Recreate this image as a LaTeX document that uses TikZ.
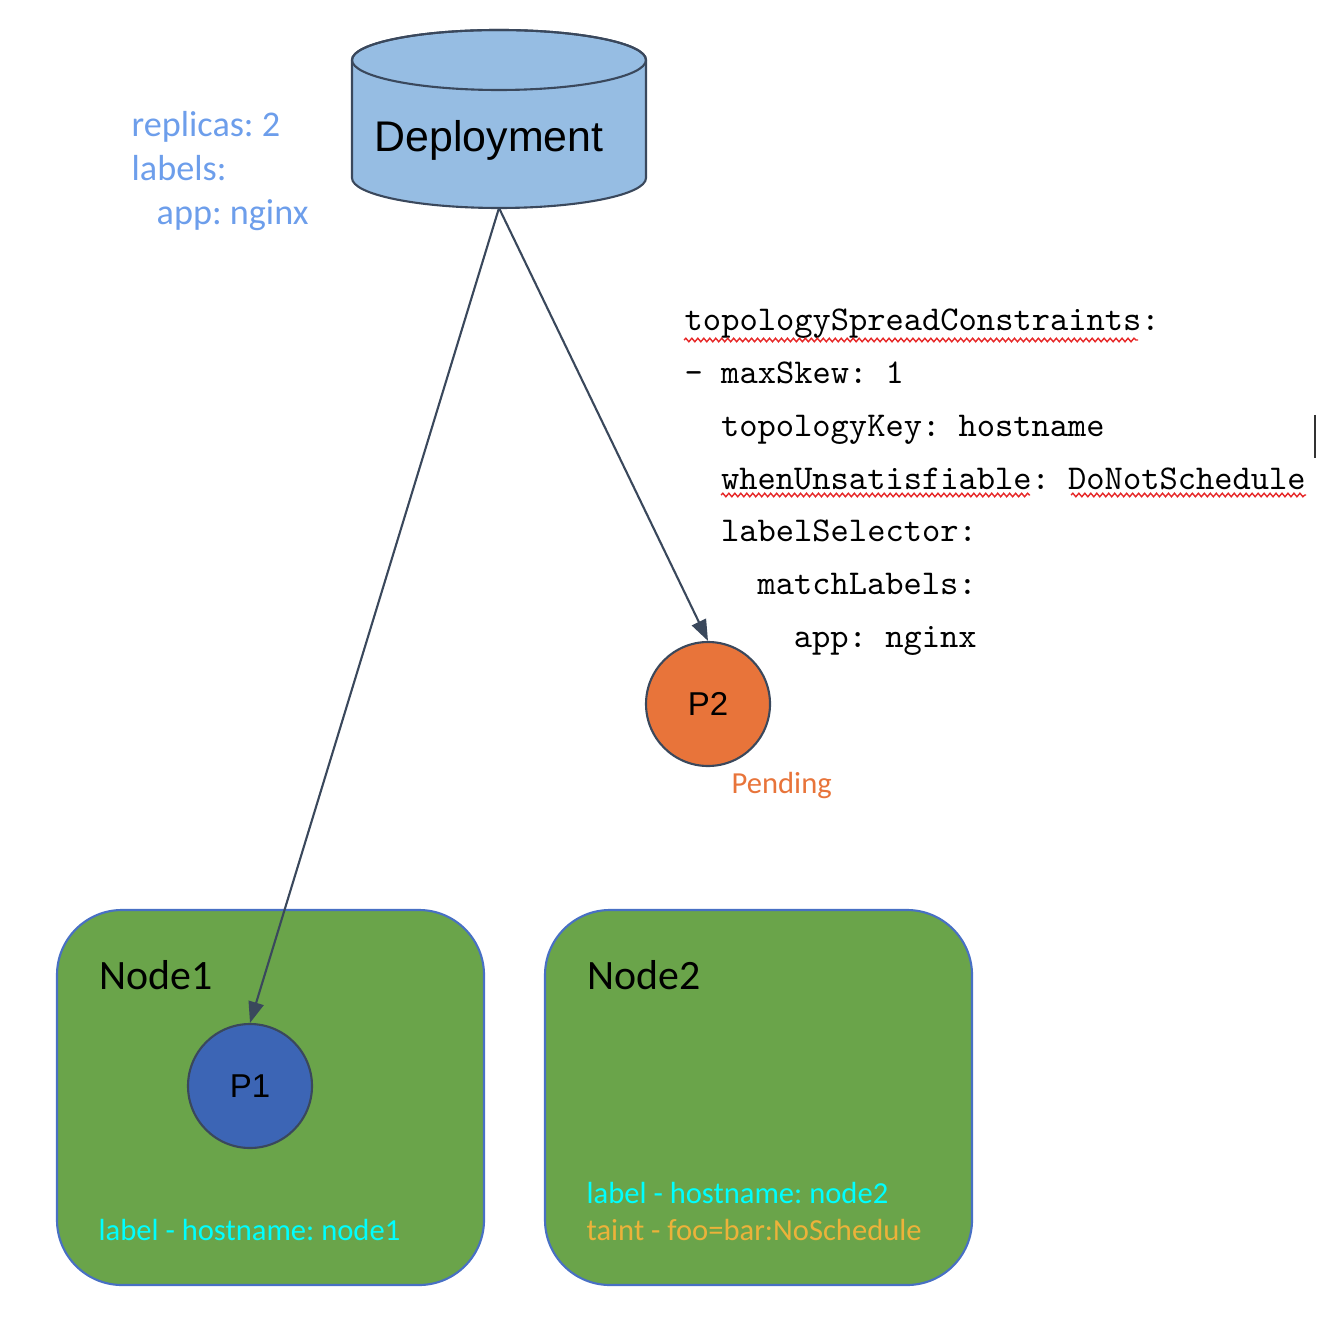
\documentclass[tikz,border=0pt]{standalone}
\usepackage{fontspec}
\setmainfont{Carlito}
\newfontfamily\arialfont{Liberation Sans}
\usetikzlibrary{positioning, arrows.meta, decorations.pathmorphing}
\frenchspacing
\definecolor{depblue}{RGB}{150,189,227}
\definecolor{edgegray}{RGB}{58,72,92}
\definecolor{nodegreen}{RGB}{106,164,74}
\definecolor{boxblue}{RGB}{72,112,196}
\definecolor{podblue}{RGB}{60,101,181}
\definecolor{podorange}{RGB}{232,116,58}
\definecolor{specblue}{RGB}{109,158,235}
\definecolor{labelcyan}{RGB}{0,255,255}
\definecolor{taintyellow}{RGB}{236,178,58}
\definecolor{spellred}{RGB}{230,40,40}
\tikzset{
	nodebox/.style={draw=boxblue, line width=0.6pt, fill=nodegreen, rounded corners=0.65cm, minimum width=4.27cm, minimum height=3.75cm}
}
\tikzset{
	podcircle/.style={circle, draw=edgegray, line width=0.6pt, minimum size=1.24cm, inner sep=0pt, font=\arialfont\fontsize{9.4}{11}\selectfont}
}
\tikzset{
	yamltext/.style={anchor=base west, inner sep=0pt, font=\ttfamily\fontsize{9.9}{11}\selectfont\frenchspacing}
}
\tikzset{
	calibritext/.style={anchor=base west, inner sep=0pt, font=\fontsize{8.7}{10}\selectfont}
}
\tikzset{
	spell/.style={spellred, line width=0.4pt, decorate, decoration={snake, amplitude=0.5pt, segment length=1.7pt}}
}
\begin{document}
\begin{tikzpicture}
      \useasboundingbox (0,0) rectangle (13.18,-13.26);
      % deployment cylinder
      \draw[line width=0.6pt, draw=edgegray, fill=depblue] (3.52,-0.60) -- (3.52,-1.78)
        arc[start angle=180, end angle=360, x radius=1.47, y radius=0.30] -- (6.46,-0.60)
        arc[start angle=0, end angle=180, x radius=1.47, y radius=0.30] -- cycle;
      \draw[line width=0.6pt, draw=edgegray] (4.99,-0.60) ellipse[x radius=1.47, y radius=0.30];
      \node[anchor=base, inner sep=0pt, font=\arialfont\fontsize{12.2}{14}\selectfont] (dep) at (4.89,-1.52) {Deployment};
      \coordinate (depbot) at (4.99,-2.08);
      \node[anchor=base west, inner sep=0pt, text=specblue, font=\fontsize{10.3}{12}\selectfont] (spec1) at (1.31,-1.37) {replicas: 2};
      \node[anchor=base west, inner sep=0pt, text=specblue, font=\fontsize{10.3}{12}\selectfont] (spec2) at (1.31,-1.81) {labels:};
      \node[anchor=base west, inner sep=0pt, text=specblue, font=\fontsize{10.3}{12}\selectfont] (spec3) at (1.56,-2.25) {app: nginx};
      % worker nodes
      \node[nodebox] (node1) at (2.705,-10.975) {};
      \node[nodebox] (node2) at (7.585,-10.975) {};
      \node[anchor=base west, inner sep=0pt, font=\fontsize{11.9}{14}\selectfont] (node1name) at (0.99,-9.89) {Node1};
      \node[anchor=base west, inner sep=0pt, font=\fontsize{11.9}{14}\selectfont] (node2name) at (5.87,-9.89) {Node2};
      \node[calibritext, text=labelcyan] (node1label) at (0.98,-12.40) {label - hostname: node1};
      \node[calibritext, text=labelcyan] (node2label) at (5.86,-12.03) {label - hostname: node2};
      \node[calibritext, text=taintyellow] (node2taint) at (5.86,-12.40) {taint - foo=bar:NoSchedule};
      % pods
      \node[podcircle, fill=podblue] (p1) at (2.50,-10.86) {P1};
      \node[podcircle, fill=podorange] (p2) at (7.08,-7.04) {P2};
      \node[calibritext, text=podorange] (pending) at (7.31,-7.93) {Pending};
      \draw[line width=0.6pt, draw=edgegray, -{Triangle[length=6pt, width=4.4pt]}] (depbot) -- (p1.north);
      \draw[line width=0.6pt, draw=edgegray, -{Triangle[length=6pt, width=4.4pt]}] (depbot) -- (p2.north);
      % spread constraints
      \foreach \n/\ind/\txt in {1/0/topologySpreadConstraints:, 2/0/- maxSkew: 1, 3/2/topologyKey: hostname,
          4/2/whenUnsatisfiable: DoNotSchedule, 5/2/labelSelector:, 6/4/matchLabels:, 7/6/app: nginx}
        \node[yamltext] (yaml\n) at ({6.84+0.182*\ind}, {-3.31-0.527*(\n-1)}) {\txt};
      \draw[spell] (6.84,-3.40) -- (11.38,-3.40);
      \draw[spell] (7.21,-4.95) -- (10.30,-4.95);
      \draw[spell] (10.71,-4.95) -- (13.06,-4.95);
      \draw[line width=0.8pt, black!80] (13.15,-4.15) -- (13.15,-4.58);
    \end{tikzpicture}
\end{document}
